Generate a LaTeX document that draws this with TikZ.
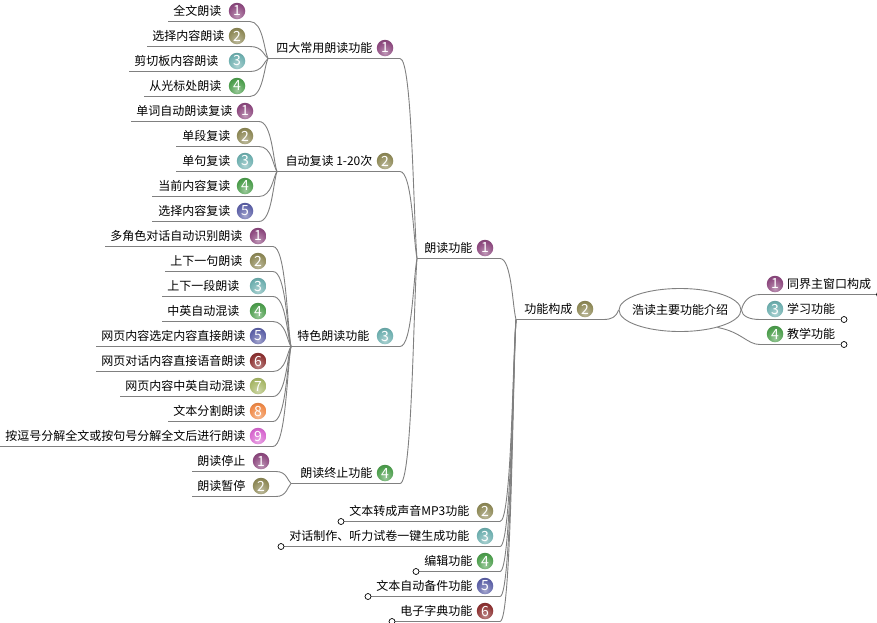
\documentclass[tikz,border=0pt]{standalone}
\usepackage{fontspec}
\setmainfont{Noto Sans CJK SC}
\usetikzlibrary{calc,shapes.geometric}
\definecolor{ball1}{HTML}{8E4A80}
\definecolor{ball2}{HTML}{8F8A58}
\definecolor{ball3}{HTML}{6FB0B0}
\definecolor{ball4}{HTML}{4E9F4E}
\definecolor{ball5}{HTML}{5E62A8}
\definecolor{ball6}{HTML}{8E3333}
\definecolor{ball7}{HTML}{A8B868}
\definecolor{ball8}{HTML}{F08A48}
\definecolor{ball9}{HTML}{D868D0}
\definecolor{linkgray}{HTML}{808080}
\newcommand{\declball}[1]{%
  \pgfdeclareradialshading{shball#1}{\pgfpoint{0bp}{-14bp}}{%
    color(0bp)=(ball#1!55!white);
    color(14bp)=(ball#1!80!white);
    color(28bp)=(ball#1);
    color(44bp)=(ball#1!80!black);
    color(60bp)=(ball#1!55!black);
    color(100bp)=(ball#1!55!black)}}
\declball{1}\declball{2}\declball{3}\declball{4}\declball{5}\declball{6}\declball{7}\declball{8}\declball{9}
\tikzset{
  link/.style={draw=linkgray,line width=0.9pt},
  label/.style={inner sep=0pt,font=\fontsize{12}{12}\selectfont,text=black},
  numball/.style={circle,minimum size=16.5pt,inner sep=0pt,shading=shball#1,text=white,
     font=\fontsize{14}{14}\selectfont},
  openend/.style={circle,draw=black,fill=white,line width=0.7pt,minimum size=6pt,inner sep=0pt},
  central/.style={ellipse,draw=linkgray,line width=0.9pt,minimum width=122pt,minimum height=43pt,inner sep=0pt,
     font=\fontsize{12}{12}\selectfont}
}
% branch from a knee to a hub: flat at the knee, almost vertical near the hub
\newcommand{\branchto}[2]{%
  \draw[link] let \p1=(#1),\p2=(#2) in (#1)
    .. controls ({\x1+0.72*(\x2-\x1)},\y1) and ({\x1+0.78*(\x2-\x1)},{\y2+0.22*(\y1-\y2)}) .. (#2);}
% id, free x, y, text right, ball x, number, text, hub, knee x
\newcommand{\topic}[9]{%
  \node[label,anchor=east] (#1t) at (#4+0.6,#3-10.5) {#7};
  \node[numball=#6] (#1b) at (#5,#3-10.5) {#6};
  \coordinate (#1e) at (#2,#3);
  \coordinate (#1k) at (#9,#3);
  \draw[link] (#1e) -- (#1k);
  \branchto{#1k}{#8}}
\begin{document}
\begin{tikzpicture}[x=1pt,y=-1pt]
\useasboundingbox (0,0) rectangle (877,622);
\clip (0,0) rectangle (877,622);
% hubs
\coordinate (h1) at (268,58.5);
\coordinate (h2) at (277,171.5);
\coordinate (h3) at (291,346.5);
\coordinate (h4) at (291,483.5);
\coordinate (rd) at (417,258.5);
\coordinate (fn) at (516,319.5);
\node[central] (centre) at (680,310) {\makebox[0pt]{浩读主要功能介绍}};
% reading functions, group 1
\topic{a1}{168}{21.5}{221}{237}{1}{全文朗读}{h1}{250}
\topic{a2}{147}{46.5}{224}{237}{2}{选择内容朗读}{h1}{250}
\topic{a3}{129}{71.5}{218}{237}{3}{剪切板内容朗读}{h1}{250}
\topic{a4}{144}{96.5}{221}{237}{4}{从光标处朗读}{h1}{250}
% group 2
\topic{b1}{131}{121.5}{232}{245}{1}{单词自动朗读复读}{h2}{259}
\topic{b2}{176}{146.5}{230}{245}{2}{单段复读}{h2}{259}
\topic{b3}{176}{171.5}{230}{245}{3}{单句复读}{h2}{259}
\topic{b4}{152}{196.5}{230}{245}{4}{当前内容复读}{h2}{259}
\topic{b5}{152}{221.5}{230}{245}{5}{选择内容复读}{h2}{259}
% group 3
\topic{c1}{105}{246.5}{242}{258}{1}{多角色对话自动识别朗读}{h3}{273}
\topic{c2}{165}{271.5}{242}{258}{2}{上下一句朗读}{h3}{273}
\topic{c3}{162}{296.5}{239}{258}{3}{上下一段朗读}{h3}{273}
\topic{c4}{162}{321.5}{239}{258}{4}{中英自动混读}{h3}{273}
\topic{c5}{96}{346.5}{245}{258}{5}{网页内容选定内容直接朗读}{h3}{273}
\topic{c6}{96}{371.5}{245}{258}{6}{网页对话内容直接语音朗读}{h3}{273}
\topic{c7}{120}{396.5}{245}{258}{7}{网页内容中英自动混读}{h3}{273}
\topic{c8}{168}{421.5}{245}{258}{8}{文本分割朗读}{h3}{273}
\topic{c9}{0}{446.5}{245}{258}{9}{按逗号分解全文或按句号分解全文后进行朗读}{h3}{273}
% group 4
\topic{d1}{192}{471.5}{245}{261}{1}{朗读停止}{h4}{276}
\topic{d2}{192}{496.5}{245}{261}{2}{朗读暂停}{h4}{276}
% parents of the groups
\topic{p1}{268}{58.5}{372}{385}{1}{四大常用朗读功能}{rd}{400}
\topic{p2}{277}{171.5}{372}{385}{2}{自动复读 1-20次}{rd}{400}
\topic{p3}{291}{346.5}{369}{385}{3}{特色朗读功能}{rd}{400}
\topic{p4}{291}{483.5}{372}{385}{4}{朗读终止功能}{rd}{400}
% function level
\topic{m1}{417}{258.5}{472}{485}{1}{朗读功能}{fn}{500}
\topic{m2}{341}{521.5}{469}{485}{2}{文本转成声音MP3功能}{fn}{500}
\topic{m3}{281}{546.5}{469}{485}{3}{对话制作、听力试卷一键生成功能}{fn}{500}
\topic{m4}{416}{571.5}{472}{485}{4}{编辑功能}{fn}{500}
\topic{m5}{368}{596.5}{472}{485}{5}{文本自动备件功能}{fn}{500}
\topic{m6}{392}{621.5}{472}{485}{6}{电子字典功能}{fn}{500}
\node[openend] (m2o) at (m2e) {};
\node[openend] (m3o) at (m3e) {};
\node[openend] (m4o) at (m4e) {};
\node[openend] (m5o) at (m5e) {};
\node[openend] (m6o) at (m6e) {};
% main branch to the centre
\node[label,anchor=east] (mct) at (572.6,309) {功能构成};
\node[numball=2] (mcb) at (585,309) {2};
\coordinate (mck) at (603,319.5);
\draw[link] (fn) -- (mck);
\draw[link] (mck) .. controls (612,319.5) and (616,317) .. (centre.west);
% right side
\coordinate (r1k) at (760,294.5);
\coordinate (r2k) at (760,319.5);
\coordinate (r3k) at (760,344.5);
\coordinate (r1e) at (879.5,294.5);
\node[openend] (r2o) at (844,319.5) {};
\node[openend] (r3o) at (844,344.5) {};
\node[openend] (r1o) at (r1e) {};
\draw[link] (centre.east) .. controls (743,302) and (749,294.5) .. (r1k) -- (r1o);
\draw[link] (centre.east) .. controls (742,316) and (749,319.5) .. (r2k) -- (r2o);
\draw[link] (centre.-25) .. controls (742,332) and (747,344.5) .. (r3k) -- (r3o);
\node[numball=1] (r1b) at (775,284) {1};
\node[numball=3] (r2b) at (775,309) {3};
\node[numball=4] (r3b) at (775,334) {4};
\node[label,anchor=west] (r1t) at (787,284) {同界主窗口构成};
\node[label,anchor=west] (r2t) at (787,309) {学习功能};
\node[label,anchor=west] (r3t) at (787,334) {教学功能};
\end{tikzpicture}
\end{document}
